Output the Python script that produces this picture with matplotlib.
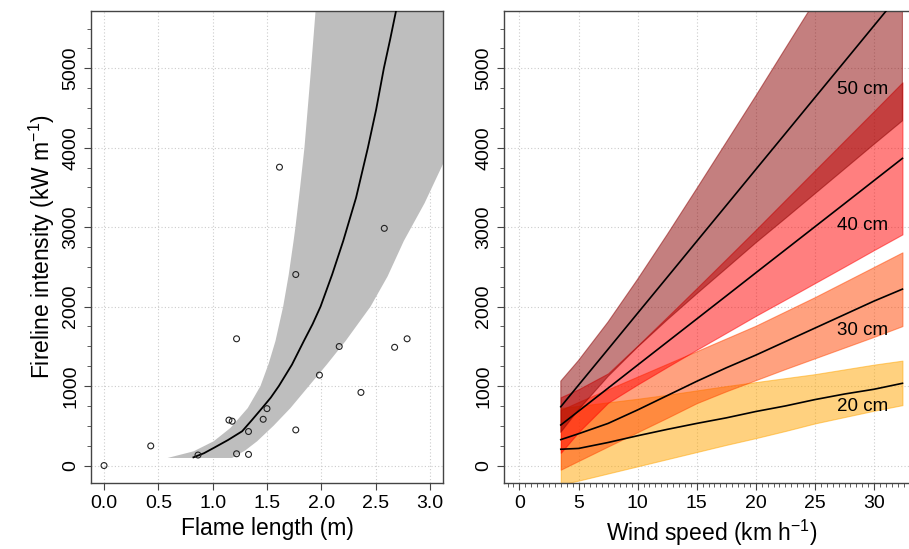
import matplotlib
matplotlib.use("Agg")
import matplotlib.pyplot as plt
from matplotlib.ticker import MultipleLocator, FormatStrFormatter

plt.rcParams['font.family'] = ['Liberation Sans', 'DejaVu Sans']
plt.rcParams['mathtext.fontset'] = 'custom'
plt.rcParams['mathtext.rm'] = 'Liberation Sans'

# observed flame length (m) vs fireline intensity (kW/m)
flame_obs = [0.00, 0.43, 0.865, 1.15, 1.18, 1.22, 1.22, 1.33, 1.33, 1.465,
             1.50, 1.615, 1.765, 1.765, 1.983, 2.165, 2.365, 2.58, 2.675, 2.79]
fi_obs = [0, 247, 132, 572, 558, 1595, 148, 428, 140, 582,
          716, 3755, 2404, 448, 1138, 1498, 920, 2985, 1488, 1595]

# fitted curve
fit_x = [0.823, 0.92, 1.009, 1.14, 1.271, 1.36, 1.455, 1.535, 1.609, 1.73,
         1.839, 1.92, 1.993, 2.100, 2.202, 2.32, 2.429, 2.505, 2.576, 2.635, 2.687]
fit_y = [103, 155, 221, 320, 431, 570, 723, 855, 1000, 1270,
         1566, 1780, 2000, 2404, 2827, 3370, 4000, 4480, 5000, 5370, 5715]

# confidence band
band_up_x = [0.585, 0.825, 1.009, 1.163, 1.323, 1.440, 1.515, 1.578, 1.649, 1.700, 1.745,
             1.762, 1.805, 1.845, 1.900, 1.947]
band_up_y = [95, 179, 305, 472, 723, 1000, 1280, 1566, 2000, 2400, 2827,
             3000, 3500, 4000, 4900, 5715]
band_lo_x = [0.585, 1.179, 1.300, 1.409, 1.560, 1.716, 1.885, 2.050, 2.223, 2.453, 2.610,
             2.760, 2.950, 3.12]
band_lo_y = [95, 95, 190, 305, 500, 723, 1000, 1270, 1566, 2000, 2380,
             2827, 3300, 3794]

# predicted intensity vs wind speed for four fuel depths
wind = [3.5, 5, 7.5, 10, 12.5, 15, 17.5, 20, 22.5, 25, 27.5, 30, 32.4]
depths = ['20 cm', '30 cm', '40 cm', '50 cm']
colors = ['orange', 'orangered', 'red', 'darkred']
fit_line = [
    [205, 215, 290, 375, 455, 530, 600, 680, 750, 830, 900, 960, 1035],
    [326, 400, 530, 700, 880, 1060, 1230, 1390, 1560, 1730, 1900, 2070, 2220],
    [510, 684, 974, 1265, 1555, 1845, 2135, 2426, 2716, 3006, 3296, 3587, 3866],
    [740, 1012, 1464, 1917, 2369, 2822, 3274, 3727, 4179, 4632, 5084, 5537, 5971],
]
fit_upper = [
    [725, 750, 795, 840, 890, 945, 1000, 1050, 1100, 1150, 1210, 1270, 1320],
    [700, 800, 960, 1120, 1280, 1440, 1600, 1760, 1940, 2120, 2310, 2500, 2683],
    [860, 960, 1160, 1510, 1870, 2233, 2600, 2968, 3343, 3716, 4089, 4462, 4823],
    [1062, 1322, 1807, 2344, 2906, 3484, 4068, 4652, 5249, 5844, 6437, 7031, 7604],
]
fit_lower = [
    [-240, -190, -100, -10, 80, 170, 260, 345, 435, 530, 610, 690, 760],
    [-52, 58, 240, 420, 600, 785, 935, 1075, 1215, 1350, 1485, 1620, 1755],
    [160, 420, 790, 1020, 1240, 1457, 1670, 1884, 2089, 2296, 2503, 2712, 2909],
    [418, 702, 1121, 1490, 1832, 2160, 2480, 2802, 3109, 3420, 3731, 4043, 4338],
]
label_x = [29.0, 29.0, 29.0, 29.0]
label_y = [741, 1703, 3027, 4735]

fig = plt.figure(figsize=(9.09, 5.49), dpi=100)
ax1 = fig.add_axes([0.1001, 0.1202, 0.3872, 0.8597])
ax2 = fig.add_axes([0.5545, 0.1202, 0.4565, 0.8597])

grid_kw = dict(color='#cccccc', linestyle=(0, (1, 2)), linewidth=0.8)

# left panel: band polygon closed through the clipped top-right corner
top = 5720
poly_x = band_up_x + [3.12] + band_lo_x[::-1]
poly_y = band_up_y + [top] + band_lo_y[::-1]
ax1.fill(poly_x, poly_y, color='#bebebe', lw=0, zorder=2)
ax1.plot(fit_x, fit_y, color='black', lw=1.3, zorder=3)
ax1.scatter(flame_obs, fi_obs, s=18, facecolors='none', edgecolors='#222222',
            linewidths=0.8, zorder=4)
ax1.set_xlim(-0.12, 3.12)
ax1.xaxis.set_major_locator(MultipleLocator(0.5))
ax1.xaxis.set_major_formatter(FormatStrFormatter('%.1f'))
ax1.set_xlabel('Flame length (m)', fontsize=16.5)
ax1.set_ylabel('Fireline intensity (kW m$^{\\mathrm{-1}}$)', fontsize=16.5)

# right panel
for lo, up, ln, c, lab, lx, ly in zip(fit_lower, fit_upper, fit_line, colors,
                                       depths, label_x, label_y):
    ax2.fill_between(wind, lo, up, facecolor=c, alpha=0.5,
                     edgecolor=c, linewidth=0.8, zorder=2)
    ax2.plot(wind, ln, color='black', lw=1.2, zorder=3)
    ax2.text(lx, ly, lab, fontsize=13.5, ha='center', va='center', zorder=4)
ax2.set_xlim(-1.3, 33.8)
ax2.xaxis.set_major_locator(MultipleLocator(5))
ax2.xaxis.set_minor_locator(MultipleLocator(0.5))
ax2.set_xlabel('Wind speed (km h$^{\\mathrm{-1}}$)', fontsize=16.5)

for ax in (ax1, ax2):
    ax.set_ylim(-220, top)
    ax.yaxis.set_major_locator(MultipleLocator(1000))
    ax.yaxis.set_minor_locator(MultipleLocator(250))
    ax.grid(True, which='major', **grid_kw)
    ax.set_axisbelow(True)
    for s in ax.spines.values():
        s.set_color('#444444')
        s.set_linewidth(1.0)
    ax.tick_params(axis='both', which='major', labelsize=14, length=5,
                   color='#444444')
    ax.tick_params(axis='both', which='minor', length=3, color='#444444')
    for t in ax.get_yticklabels():
        t.set_rotation(90)
        t.set_va('center')

fig.savefig('out.png', dpi=100)
